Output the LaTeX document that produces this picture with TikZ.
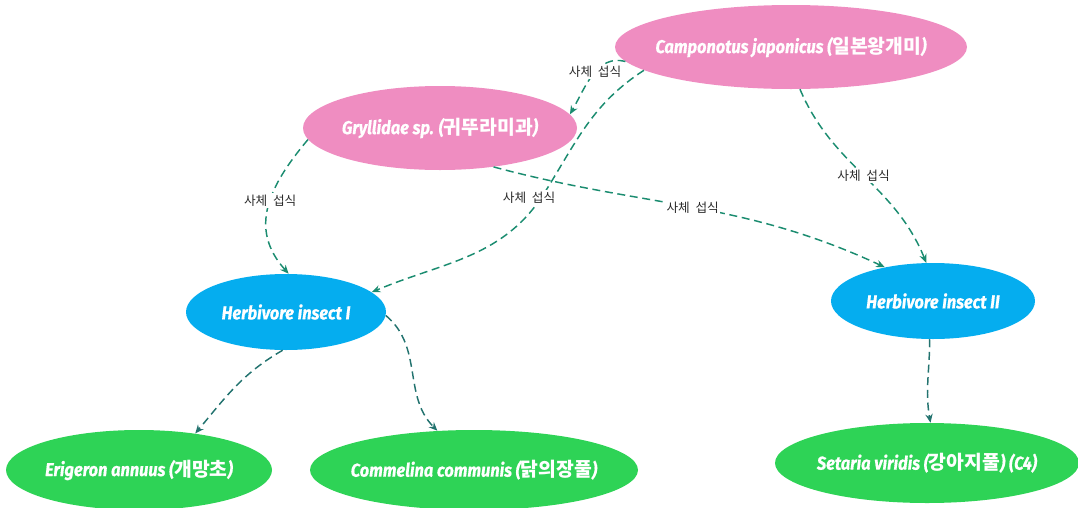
\documentclass[tikz,border=0pt]{standalone}
\usepackage{fontspec}
\usetikzlibrary{shapes.geometric,arrows.meta}
\newfontfamily\hand{Fira Sans}[FakeStretch=0.88,FakeBold=0.6]
\newfontfamily\kr{Noto Sans CJK KR}
\definecolor{cpink}{HTML}{EF8DC1}
\definecolor{cblue}{HTML}{05ADEF}
\definecolor{cgreen}{HTML}{2ED356}
\definecolor{tealA}{HTML}{1B8C70}
\definecolor{tealB}{HTML}{23736F}
\definecolor{lblgray}{HTML}{2A2A2A}
\newcommand\sci[1]{{\hand\bfseries\itshape #1}}
\newcommand\kor[1]{{\kr\bfseries\fontsize{14.5}{16}\selectfont #1}}
\newcommand\feedtxt{사체\hspace{0.45em}섭식}
\begin{document}
\begin{tikzpicture}[x=0.75pt,y=0.75pt,
  blob/.style={ellipse, draw=none, inner sep=0pt, text=white, font=\fontsize{14}{16}\selectfont},
  pinkn/.style={blob, fill=cpink},
  bluen/.style={blob, fill=cblue},
  greenn/.style={blob, fill=cgreen},
  feed/.style={draw=tealA, line width=1.1pt, dash pattern=on 6pt off 3.5pt, -{Stealth[length=6.5pt,width=5.5pt]}},
  herb/.style={feed, draw=tealB},
  lbl/.style={fill=white, inner sep=1pt, text=lblgray, font=\kr\fontsize{9.5}{11}\selectfont}
]
\useasboundingbox (0,0) rectangle (1078,-507);
\clip (0,0) rectangle (1078,-507);

\node[pinkn, minimum width=264pt, minimum height=63pt] (C) at (791,-47) {\makebox[0pt]{\sci{Camponotus japonicus (}\kor{일본왕개미}\sci{)}}};
\node[pinkn, minimum width=205.5pt, minimum height=63pt] (G) at (440,-128) {\makebox[0pt]{\sci{Gryllidae sp. (}\kor{귀뚜라미과}\sci{)}}};
\node[bluen, minimum width=150pt, minimum height=57pt] (H1) at (286,-312) {\makebox[0pt]{\sci{Herbivore insect I}}};
\node[bluen, minimum width=153pt, minimum height=57pt] (H2) at (933,-301) {\makebox[0pt]{\sci{Herbivore insect II}}};
\node[greenn, minimum width=199.5pt, minimum height=60pt] (E) at (139,-470) {\makebox[0pt]{\sci{Erigeron annuus (}\kor{개망초}\sci{)}}};
\node[greenn, minimum width=246pt, minimum height=60pt] (Cm) at (474,-470) {\makebox[0pt]{\sci{Commelina communis (}\kor{닭의장풀}\sci{)}}};
\node[greenn, minimum width=228pt, minimum height=60pt] (S) at (927,-463) {\makebox[0pt]{\sci{Setaria viridis (}\kor{강아지풀}\sci{) (C4)}}};

\coordinate (m2) at (545,-192);

\draw[feed] (C.185) to[out=165,in=60] node[lbl, pos=0.45] (l1) {\feedtxt} (G.6);
\draw[feed] (C.189) to[out=213,in=58] (m2) to[out=238,in=23] (H1.13);
\node[lbl, xshift=-12pt, yshift=-4pt] (l2) at (m2) {\feedtxt};
\draw[feed] (C.282) to[out=293,in=112] node[lbl, pos=0.5] (l3) {\feedtxt} (H2.100);
\draw[feed] (G.185) to[out=230,in=132,looseness=1.15] node[lbl, pos=0.45] (l4) {\feedtxt} (H1.86);
\draw[feed] (G.324) to[out=345,in=155] node[lbl, pos=0.5] (l5) {\feedtxt} (H2.145);

\draw[herb] (H1.265) to[out=210,in=50] (E.33);
\draw[herb] (H1.358) to[out=-40,in=135] (Cm.133);
\draw[herb] (H2.265) to[out=270,in=100] (S.85);
\end{tikzpicture}
\end{document}
